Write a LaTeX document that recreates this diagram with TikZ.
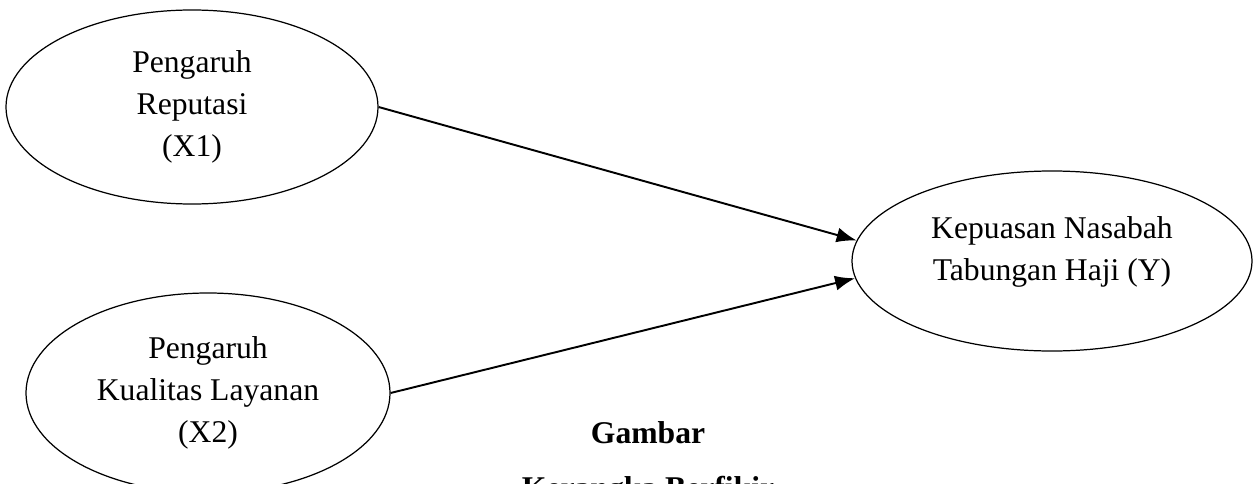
\documentclass[tikz,border=0pt]{standalone}
\usepackage{fontspec}
\setmainfont{Liberation Serif}
\usepackage{tikz}
\usetikzlibrary{shapes.geometric, arrows.meta, positioning}

\begin{document}
\begin{tikzpicture}
        \useasboundingbox (0, 0) rectangle (25.14, 9.66);
        \tikzset{
            var/.style={ellipse, draw, line width=0.7pt, align=center, inner sep=0pt,
                font=\fontsize{18}{24}\selectfont},
            panah/.style={line width=1.1pt, -{Latex[length=4mm, width=3mm]}},
            judul/.style={font=\fontsize{18}{24}\selectfont\bfseries, anchor=base}
        }
        
        \node[var, minimum width=7.44cm, minimum height=3.88cm] (x1) at (3.84, 7.52) {Pengaruh\\Reputasi\\(X1)};
        \node[var, minimum width=7.28cm, minimum height=4.0cm] (x2) at (4.16, 1.80) {Pengaruh\\Kualitas Layanan\\(X2)};
        \node[var, minimum width=8.0cm, minimum height=3.6cm] (y) at (21.04, 4.44) {Kepuasan Nasabah\\Tabungan Haji (Y)\\[-0.36cm]\mbox{}};
        
        \draw[panah] (x1.east) -- (y.174);
        \draw[panah] (x2.east) -- (y.185);
        
        \node[judul] (gbr) at (12.96, 0.80) {Gambar};
        \node[judul] (kb) at (12.96, -0.30) {Kerangka Berfikir};
    \end{tikzpicture}
\end{document}
